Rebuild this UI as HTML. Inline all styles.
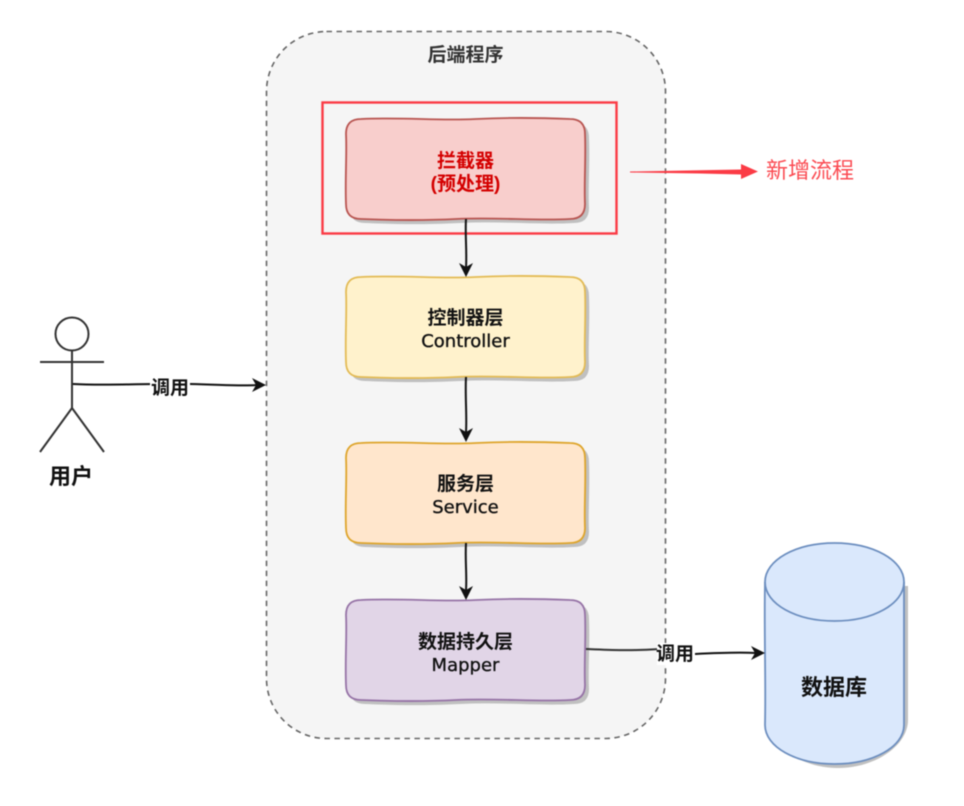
<!DOCTYPE html>
<html><head><meta charset="utf-8"><style>
html,body{margin:0;padding:0;background:#fff}
svg{display:block;filter:blur(0.45px)}
text{font-family:"Liberation Sans","Noto Sans CJK SC",sans-serif;text-anchor:middle;font-size:19px;font-weight:700;fill:#111}
.en{font-family:"DejaVu Sans","Noto Sans CJK SC",sans-serif;font-size:18px;font-weight:400;stroke:#111;stroke-width:.35}
.ln{fill:none;stroke:#111;stroke-width:2}
.ah{fill:#111;stroke:none}
</style></head><body>
<svg width="964" height="806" viewBox="0 0 964 806" xmlns="http://www.w3.org/2000/svg">
<defs>
<path id="w" d="M15 0C60 -2 90 2 130 0S200 -1 224 0Q239 0 239 15C240 40 238 65 239 85Q239 100 224 100C190 102 150 98 110 100S40 101 15 100Q0 100 0 85C-1 60 1 35 0 15Q0 0 15 0Z"/>
</defs>
<rect width="964" height="806" fill="#fff"/>
<rect x="266.500" y="31.500" width="399" height="707" rx="60" fill="#f5f5f5" stroke="#666" stroke-width="1.600" stroke-dasharray="5.500 4.500"/>
<text x="465.500" y="61" style="fill:#333">后端程序</text>

<rect x="322.500" y="102.500" width="294" height="131" fill="none" stroke="#fb3b45" stroke-width="2.400"/>

<use href="#w" x="350" y="123" fill="#c0c0c0"/>
<use href="#w" x="346" y="119" fill="#f8cecc" stroke="#b85450" stroke-width="1.800"/>
<text x="465.500" y="167" style="fill:#d40000">拦截器</text>
<text x="465.500" y="190" style="fill:#d40000">(预处理)</text>

<use href="#w" x="350" y="281" fill="#c0c0c0"/>
<use href="#w" x="346" y="277" fill="#fff2cc" stroke="#e3bb55" stroke-width="1.800"/>
<text x="465.500" y="324">控制器层</text>
<text x="465.500" y="347" class="en">Controller</text>

<use href="#w" x="350" y="447" fill="#c0c0c0"/>
<use href="#w" x="346" y="443" fill="#ffe6cc" stroke="#dea52c" stroke-width="1.800"/>
<text x="465.500" y="490">服务层</text>
<text x="465.500" y="513" class="en">Service</text>

<use href="#w" x="350" y="604" fill="#c0c0c0"/>
<use href="#w" x="346" y="600" fill="#e1d5e7" stroke="#9673a6" stroke-width="1.800"/>
<text x="465.500" y="648">数据持久层</text>
<text x="465.500" y="671" class="en">Mapper</text>

<path class="ln" d="M466 219C465 235 467 250 466 268"/>
<path class="ah" d="M466 277L459 263L466 267L473 263Z"/>
<path class="ln" d="M466 377C465 395 467 415 466 432"/>
<path class="ah" d="M466 442L459 428L466 432L473 428Z"/>
<path class="ln" d="M466 543C465 560 467 575 466 590"/>
<path class="ah" d="M466 600L459 586L466 590L473 586Z"/>

<circle cx="72" cy="334" r="16.500" fill="#fff" stroke="#333" stroke-width="2"/>
<path d="M72 351V408M40 362H104M72 408L40 452M72 408L104 452" fill="none" stroke="#333" stroke-width="2"/>
<text x="71" y="484" style="font-size:22px">用户</text>

<path class="ln" d="M73 384C110 386 150 383 190 384S240 386 258 385"/>
<path class="ah" d="M266 385L252 378L256 385L252 392Z"/>
<rect x="150" y="376" width="40" height="22" fill="#fff"/>
<text x="170" y="394">调用</text>

<path d="M769 586V720C769 745 800 768 838 768S908 745 908 720V586Z" fill="#c0c0c0"/>
<path d="M765 582C765 560 796 543 834.500 543S904 560 904 582V725C904 747 873 764 834.500 764S765 747 765 725C766 680 764 630 765 582Z" fill="#dae8fc" stroke="#6c8ebf" stroke-width="1.800"/>
<path d="M765 582C765 604 796 621 834.500 621S904 604 904 582" fill="none" stroke="#6c8ebf" stroke-width="1.800"/>
<text x="834" y="695" style="font-size:22px">数据库</text>

<path class="ln" d="M586 649C610 650 630 651 660 649" style="stroke:#333"/>
<path class="ln" d="M695 654C715 653 735 652 756 653"/>
<path class="ah" d="M765 653L751 646L755 653L751 660Z"/>
<rect x="657" y="643" width="37" height="22" fill="#fff"/>
<text x="675" y="660">调用</text>

<path d="M630 171.500L700 170.300L741 169.500V164L758 171.500L741 179V174.500L700 173.500L630 172.500Z" fill="#fb3b45"/>
<text x="810" y="178" style="fill:#fb4b52;font-size:22px;font-weight:400">新增流程</text>
</svg>
</body></html>
